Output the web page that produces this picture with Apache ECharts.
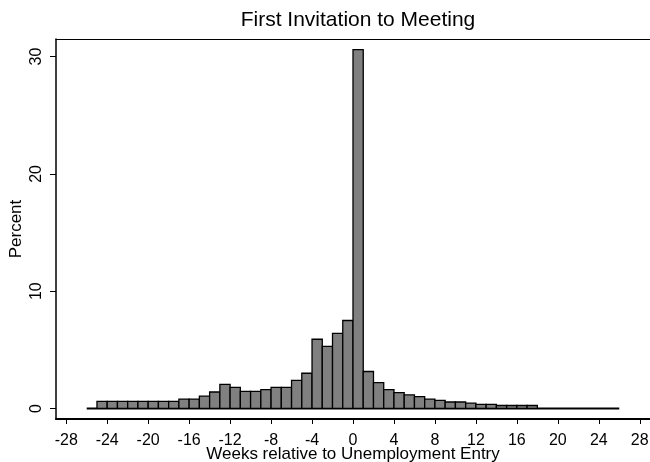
<!DOCTYPE html>
<html>
<head>
<meta charset="utf-8">
<script src="https://cdn.jsdelivr.net/npm/echarts@6/dist/echarts.min.js"></script>
<style>html,body{margin:0;padding:0;background:#fff;}#c{width:650px;height:462px;}</style>
</head>
<body>
<div id="c"></div>
<script>
// Histogram bins: each bin starts at binStart[i] and is one week wide
const binStart = [-26,-25,-24,-23,-22,-21,-20,-19,-18,-17,-16,-15,-14,-13,-12,-11,-10,-9,-8,-7,-6,-5,-4,-3,-2,-1,0,1,2,3,4,5,6,7,8,9,10,11,12,13,14,15,16,17,18,19,20,21,22,23,24,25];
const percent  = [0,0.6,0.6,0.6,0.6,0.6,0.6,0.6,0.6,0.8,0.8,1.05,1.4,2.05,1.8,1.45,1.45,1.6,1.8,1.8,2.4,3.0,5.9,5.3,6.4,7.5,30.6,3.15,2.2,1.6,1.35,1.15,1.0,0.8,0.68,0.55,0.55,0.45,0.35,0.35,0.25,0.25,0.25,0.25,0,0,0,0,0,0,0,0];
const xTicks = [-28,-24,-20,-16,-12,-8,-4,0,4,8,12,16,20,24,28];
const yTicks = [0,10,20,30];
const baselineRange = [-26, 26];
const titleText = 'First Invitation to Meeting';
const xTitle = 'Weeks relative to Unemployment Entry';
const yTitle = 'Percent';

const font = '"Liberation Sans", Arial, sans-serif';
const chart = echarts.init(document.getElementById('c'), null, {renderer:'canvas'});
const barData = binStart.map((b,i)=>[b, percent[i]]);

chart.setOption({
  animation:false,
  backgroundColor:'#fff',
  title:{text:titleText, left:353, textAlign:'center', top:5,
    textStyle:{fontFamily:font, fontSize:21, fontWeight:'normal', color:'#000'}},
  grid:{left:56, right:0, top:39, bottom:43, containLabel:false, outerBoundsMode:'none'},
  xAxis:[{
    type:'value', min:-29, max:29,
    name:xTitle, nameLocation:'middle', nameGap:27, nameMoveOverlap:false,
    nameTextStyle:{fontFamily:font, fontSize:17, color:'#000', verticalAlign:'top'},
    axisLine:{show:true, onZero:false, lineStyle:{color:'#000', width:2}},
    axisTick:{show:true, length:5, customValues:xTicks, lineStyle:{color:'#000', width:1}},
    axisLabel:{show:true, customValues:xTicks, margin:14, fontFamily:font, fontSize:16, color:'#000'},
    splitLine:{show:false}
  },{
    type:'value', min:-29, max:29, position:'top',
    axisLine:{show:true, onZero:false, lineStyle:{color:'#000', width:1}},
    axisTick:{show:false}, axisLabel:{show:false}, splitLine:{show:false}
  }],
  yAxis:{
    type:'value', min:-0.9, max:31.5,
    name:yTitle, nameLocation:'middle', nameGap:31, nameMoveOverlap:false,
    nameTextStyle:{fontFamily:font, fontSize:17, color:'#000'},
    axisLine:{show:true, onZero:false, lineStyle:{color:'#000', width:1.5}},
    axisTick:{show:true, length:6, customValues:yTicks, lineStyle:{color:'#000', width:1}},
    axisLabel:{show:true, customValues:yTicks, rotate:90, margin:11, fontFamily:font, fontSize:16, color:'#000'},
    splitLine:{show:false}
  },
  series:[{
    type:'line', data:[[baselineRange[0],0],[baselineRange[1],0]],
    symbol:'none', lineStyle:{color:'#000', width:2}, z:1, silent:true
  },{
    type:'custom', z:2,
    data:barData,
    renderItem:function(params, api){
      const k = api.value(0), v = api.value(1);
      if (!(v > 0)) return null;
      const p0 = api.coord([k, v]);
      const p1 = api.coord([k+1, 0]);
      return {type:'rect', shape:{x:p0[0], y:p0[1], width:p1[0]-p0[0], height:p1[1]-p0[1]},
        style:{fill:'#808080', stroke:'#000', lineWidth:1.3}};
    }
  }]
});
</script>
</body>
</html>
